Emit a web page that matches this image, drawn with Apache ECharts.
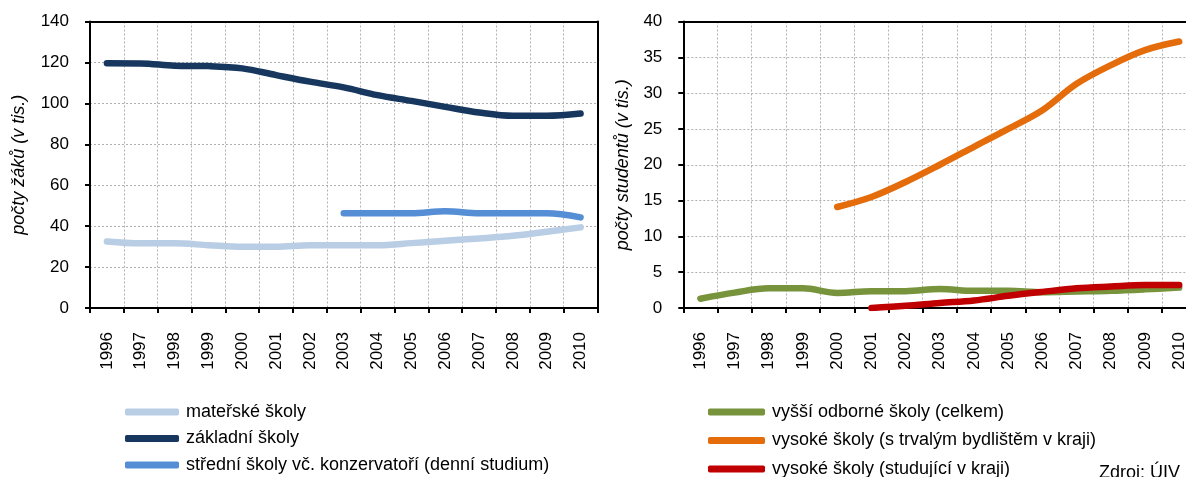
<!DOCTYPE html>
<html>
<head>
<meta charset="utf-8">
<script src="https://cdn.jsdelivr.net/npm/echarts@6/dist/echarts.min.js"></script>
<style>
html,body{margin:0;padding:0;background:#fff;overflow:hidden;}
#chart{width:1200px;height:477px;}
</style>
</head>
<body>
<div id="chart"></div>
<script>
var years = ['1996','1997','1998','1999','2000','2001','2002','2003','2004','2005','2006','2007','2008','2009','2010'];

// left chart (počty žáků v tis.)
var materske = [32.5,31.6,31.6,30.7,29.9,29.9,30.7,30.7,30.7,31.7,32.9,34.0,35.3,37.3,39.4];
var zakladni = [119.6,119.5,118.4,118.2,117.1,113.8,110.6,107.8,104.0,101.2,98.3,95.5,93.9,93.9,95.0];
var stredni = [null,null,null,null,null,null,null,46.3,46.3,46.3,47.3,46.3,46.3,46.3,44.3];

// right chart (počty studentů v tis.)
var vyssiOdborne = [1.3,2.15,2.75,2.75,2.1,2.35,2.35,2.65,2.4,2.4,2.2,2.3,2.4,2.6,2.85];
var vysokeBydliste = [null,null,null,null,14.1,15.5,17.6,20.0,22.5,25.0,27.6,31.3,33.9,36.0,37.2];
var vysokeStudujici = [null,null,null,null,null,0.0,0.3,0.7,1.05,1.7,2.25,2.75,3.0,3.2,3.2];

var leftTicks = {min:0, max:140, interval:20};
var rightTicks = {min:0, max:40, interval:5};

var FONT = '"Liberation Sans", Arial, sans-serif';
var FS = 17;
var LFS = 18;

function xAxis(idx){
  return {
    type:'category', gridIndex:idx, data:years, boundaryGap:true, z:1,
    axisLine:{show:true, lineStyle:{color:'#000', width:2}},
    axisTick:{show:true, length:5, lineStyle:{color:'#000', width:2}},
    axisLabel:{rotate:90, margin:24, color:'#000', fontSize:FS, fontFamily:FONT, interval:0},
    splitLine:{show:true, lineStyle:{color:'#b0b0b0', type:[2,2], width:1}}
  };
}
function frameX(idx){
  return {
    type:'category', gridIndex:idx, data:years, position:'top', z:5,
    axisLine:{show:true, onZero:false, lineStyle:{color:'#000', width:2}},
    axisTick:{show:false}, axisLabel:{show:false}, splitLine:{show:false}
  };
}
function yAxis(idx, t, name, gap){
  return {
    type:'value', gridIndex:idx, min:t.min, max:t.max, interval:t.interval, z:1,
    name:name, nameLocation:'middle', nameRotate:90, nameGap:gap,
    nameTextStyle:{color:'#000', fontSize:LFS, fontStyle:'italic', fontFamily:FONT},
    axisLine:{show:true, lineStyle:{color:'#000', width:2}},
    axisTick:{show:true, length:5, lineStyle:{color:'#000', width:2}},
    axisLabel:{margin:21, color:'#000', fontSize:FS, fontFamily:FONT},
    splitLine:{show:true, lineStyle:{color:'#b0b0b0', type:[2,2], width:1}}
  };
}
function frameY(idx, t){
  return {
    type:'value', gridIndex:idx, min:t.min, max:t.max, interval:t.interval, position:'right', z:5,
    axisLine:{show:true, onZero:false, lineStyle:{color:'#000', width:2}},
    axisTick:{show:false}, axisLabel:{show:false}, splitLine:{show:false}
  };
}
function line(name, data, color, xi){
  return {
    name:name, type:'line', xAxisIndex:xi, yAxisIndex:xi, data:data,
    smooth:0.35, symbol:'none', connectNulls:false, z:3,
    lineStyle:{color:color, width:6.5, cap:'round', join:'round'},
    itemStyle:{color:color}
  };
}

var chart = echarts.init(document.getElementById('chart'), null, {renderer:'canvas'});
chart.setOption({
  animation:false,
  backgroundColor:'#fff',
  grid:[
    {left:90, top:21.5, width:507.5, height:286.5, show:false},
    {left:683.3, top:21.5, width:513, height:286.5, show:false}
  ],
  xAxis:[xAxis(0), xAxis(1), frameX(0), frameX(1)],
  yAxis:[
    yAxis(0, leftTicks, 'počty žáků (v tis.)', 62),
    yAxis(1, rightTicks, 'počty studentů (v tis.)', 51),
    frameY(0, leftTicks), frameY(1, rightTicks)
  ],
  legend:[
    {
      orient:'vertical', left:120, top:397, width:500, height:120, itemWidth:54, itemHeight:7, itemGap:6.5,
      icon:'roundRect',
      data:['mateřské školy','základní školy','střední školy vč. konzervatoří (denní studium)'],
      textStyle:{color:'#000', fontSize:LFS, fontFamily:FONT, lineHeight:20, padding:[0,0,0,2]}
    },
    {
      orient:'vertical', left:703, top:397, width:480, height:120, itemWidth:57, itemHeight:7, itemGap:8.5,
      icon:'roundRect',
      data:['vyšší odborné školy (celkem)','vysoké školy (s trvalým bydlištěm v kraji)','vysoké školy (studující v kraji)'],
      textStyle:{color:'#000', fontSize:LFS, fontFamily:FONT, lineHeight:20, padding:[0,0,0,2]}
    }
  ],
  graphic:[
    {type:'text', left:1099, top:464, style:{text:'Zdroj: ÚIV', fill:'#000', font:LFS+'px '+FONT}}
  ],
  series:[
    line('mateřské školy', materske, '#b9cde5', 0),
    line('základní školy', zakladni, '#17375e', 0),
    line('střední školy vč. konzervatoří (denní studium)', stredni, '#558ed5', 0),
    line('vyšší odborné školy (celkem)', vyssiOdborne, '#77933c', 1),
    line('vysoké školy (s trvalým bydlištěm v kraji)', vysokeBydliste, '#e46c0a', 1),
    line('vysoké školy (studující v kraji)', vysokeStudujici, '#c00000', 1)
  ]
});
</script>
</body>
</html>
